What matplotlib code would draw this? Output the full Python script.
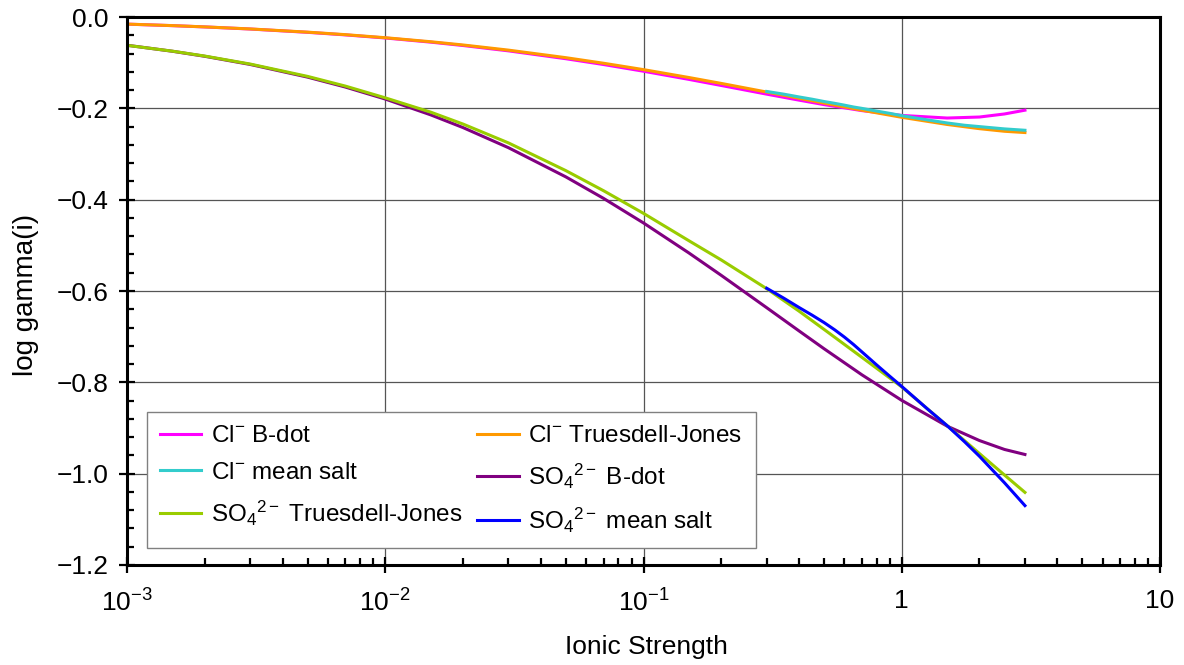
import matplotlib
matplotlib.use("Agg")
import matplotlib.pyplot as plt
from matplotlib.ticker import FixedLocator, NullFormatter

plt.rcParams['font.family'] = ['Liberation Sans', 'DejaVu Sans']
plt.rcParams['mathtext.fontset'] = 'custom'
plt.rcParams['mathtext.rm'] = 'Liberation Sans'
plt.rcParams['mathtext.it'] = 'Liberation Sans'
plt.rcParams['mathtext.bf'] = 'Liberation Sans:bold'

# ionic strength grid for the full-range curves
ionic = [0.001, 0.0015, 0.002, 0.003, 0.005, 0.007, 0.01, 0.015, 0.02, 0.03, 0.05, 0.07,
         0.1, 0.15, 0.2, 0.3, 0.4, 0.5, 0.7, 1.0, 1.5, 2.0, 2.5, 3.0]
cl_bdot = [-0.0156, -0.0189, -0.0217, -0.0263, -0.0335, -0.0391, -0.0459, -0.0550,
           -0.0624, -0.0741, -0.0913, -0.1040, -0.1187, -0.1366, -0.1499, -0.1689,
           -0.1820, -0.1918, -0.2049, -0.2155, -0.2212, -0.2190, -0.2123, -0.2040]
cl_tj = [-0.0155, -0.0188, -0.0216, -0.0261, -0.0331, -0.0386, -0.0453, -0.0541,
         -0.0612, -0.0725, -0.0890, -0.1012, -0.1152, -0.1325, -0.1454, -0.1643,
         -0.1779, -0.1885, -0.2040, -0.2196, -0.2353, -0.2445, -0.2502, -0.2530]
so4_bdot = [-0.0618, -0.0750, -0.0860, -0.1039, -0.1316, -0.1533, -0.1796, -0.2143,
            -0.2421, -0.2862, -0.3500, -0.3971, -0.4510, -0.5168, -0.5657, -0.6366,
            -0.6873, -0.7263, -0.7833, -0.8395, -0.8960, -0.9275, -0.9470, -0.9580]
so4_tj = [-0.0620, -0.0748, -0.0855, -0.1030, -0.1300, -0.1512, -0.1770, -0.2083,
          -0.2344, -0.2757, -0.3363, -0.3803, -0.4300, -0.4900, -0.5320, -0.5950,
          -0.6440, -0.6840, -0.7450, -0.8100, -0.8950, -0.9560, -1.0030, -1.0410]

# mean salt curves only cover 0.3 - 3
ionic_ms = [0.3, 0.35, 0.4, 0.45, 0.5, 0.55, 0.6, 0.65, 0.7, 0.8, 0.9, 1.0,
            1.25, 1.5, 1.75, 2.0, 2.5, 3.0]
cl_ms = [-0.163, -0.169, -0.175, -0.180, -0.185, -0.189, -0.193, -0.197, -0.200, -0.206,
         -0.211, -0.216, -0.225, -0.232, -0.237, -0.240, -0.245, -0.248]
so4_ms = [-0.594, -0.616, -0.636, -0.653, -0.669, -0.685, -0.701, -0.717, -0.733, -0.762,
          -0.787, -0.809, -0.857, -0.895, -0.930, -0.962, -1.020, -1.070]

x_ticks = [0.001, 0.01, 0.1, 1, 10]
x_labels = [r'10$^{-3}$', r'10$^{-2}$', r'10$^{-1}$', '1', '10']
y_ticks = [0.0, -0.2, -0.4, -0.6, -0.8, -1.0, -1.2]
y_labels = ['0.0', '\u22120.2', '\u22120.4', '\u22120.6', '\u22120.8', '\u22121.0', '\u22121.2']

fig = plt.figure(figsize=(11.84, 6.65), dpi=100)
ax = fig.add_axes([0.1073, 0.1504, 0.8724, 0.8240])

lw = 2.2
lines = []
lines += ax.plot(ionic, cl_bdot, color='#FF00FF', lw=lw, label=r'Cl$^{-}$ B-dot')
lines += ax.plot(ionic, cl_tj, color='#FF9900', lw=lw, label=r'Cl$^{-}$ Truesdell-Jones')
lines += ax.plot(ionic_ms, cl_ms, color='#33CCCC', lw=lw, label=r'Cl$^{-}$ mean salt')
lines += ax.plot(ionic, so4_bdot, color='#800080', lw=lw, label=r'SO$_4$$^{2-}$ B-dot')
lines += ax.plot(ionic, so4_tj, color='#99CC00', lw=lw, label=r'SO$_4$$^{2-}$ Truesdell-Jones')
lines += ax.plot(ionic_ms, so4_ms, color='#0000FF', lw=lw, label=r'SO$_4$$^{2-}$ mean salt')

ax.set_xscale('log')
ax.set_xlim(0.001, 10)
ax.set_ylim(-1.2, 0.0)

ax.xaxis.set_major_locator(FixedLocator(x_ticks))
ax.set_xticklabels(x_labels)
ax.xaxis.set_minor_locator(FixedLocator([m * d for d in [0.001, 0.01, 0.1, 1] for m in range(2, 10)]))
ax.xaxis.set_minor_formatter(NullFormatter())
ax.yaxis.set_major_locator(FixedLocator(y_ticks))
ax.set_yticklabels(y_labels)
ax.yaxis.set_minor_locator(FixedLocator([-0.04 * k for k in range(31)]))

ax.tick_params(which='major', direction='inout', length=11, width=1.6, labelsize=19, color='black')
ax.tick_params(which='minor', direction='in', length=5, width=1.6, color='black')
ax.tick_params(axis='x', which='major', pad=12)
ax.tick_params(axis='y', which='major', pad=8)
ax.tick_params(top=False, right=False, which='both')

ax.grid(True, which='major', color='#555555', lw=0.9)
ax.set_axisbelow(True)
for s in ax.spines.values():
    s.set_linewidth(2.2)
    s.set_color('black')

ax.set_xlabel('Ionic Strength', fontsize=19, va='top')
ax.xaxis.set_label_coords(0.503, -0.128)
ax.set_ylabel('log gamma(i)', fontsize=20)
ax.yaxis.set_label_coords(-0.085, 0.493)

# legend is filled row by row in the reference: reorder for column-wise filling
order = [0, 2, 4, 1, 3, 5]
leg = ax.legend([lines[i] for i in order], [lines[i].get_label() for i in order],
                ncol=2, loc='lower left', bbox_to_anchor=(0.019, 0.031), borderaxespad=0,
                fontsize=17.5, frameon=True, fancybox=False, framealpha=1,
                handlelength=1.7, handletextpad=0.4, columnspacing=0.6, labelspacing=0.6,
                borderpad=0.55)
leg.get_frame().set_edgecolor('#808080')
leg.get_frame().set_linewidth(1.0)

fig.savefig('out.png', dpi=100)
